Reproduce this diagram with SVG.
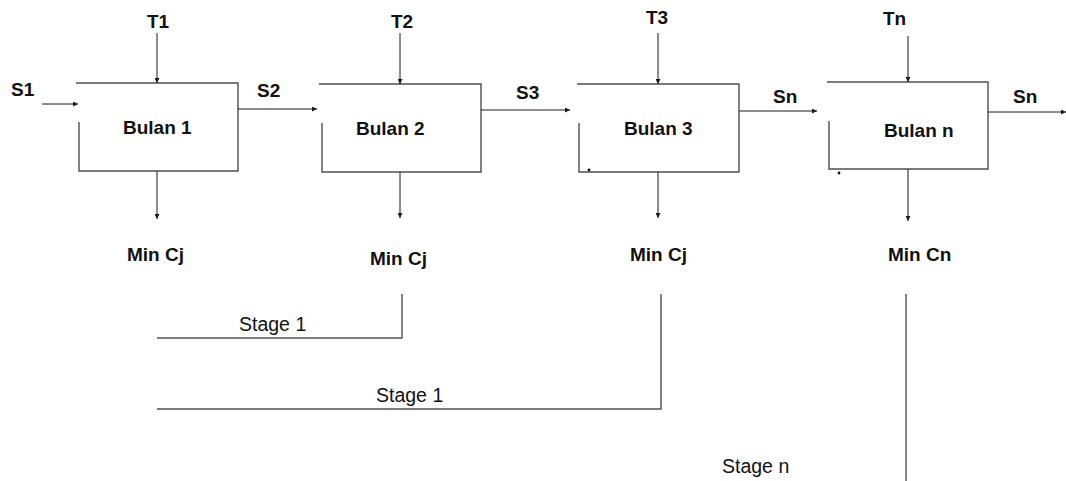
<svg xmlns="http://www.w3.org/2000/svg" width="1066" height="481" viewBox="0 0 1066 481">
  <defs>
    <style>
      .box { fill: none; stroke: #505050; stroke-width: 1.4; }
      .arrow { fill: none; stroke: #1a1a1a; stroke-width: 1; marker-end: url(#head); }
      .bracket { fill: none; stroke: #505050; stroke-width: 1.4; }
      .lbl { font-family: "Liberation Sans", Arial, sans-serif; font-weight: bold; font-size: 19px; fill: #111; }
      .stage { font-family: "Liberation Sans", Arial, sans-serif; font-size: 19.5px; fill: #111; }
      .dot { fill: #111; }
    </style>
    <marker id="head" markerUnits="userSpaceOnUse" markerWidth="5" markerHeight="5" refX="5" refY="2.5" orient="auto">
      <path d="M0,0 L5,2.5 L0,5 z" fill="#1a1a1a"/>
    </marker>
  </defs>
  <rect width="1066" height="481" fill="#ffffff"/>

  <!-- month blocks -->
  <g id="bulan1">
    <path class="box" d="M76,83 H238 V171 H79 V122"/>
    <text class="lbl" x="123" y="134">Bulan 1</text>
  </g>
  <g id="bulan2">
    <path class="box" d="M319,84 H481 V172 H322 V123"/>
    <text class="lbl" x="356" y="135">Bulan 2</text>
  </g>
  <g id="bulan3">
    <path class="box" d="M577,84 H739 V172 H579 V123"/>
    <circle class="dot" cx="589" cy="170" r="1.4"/>
    <text class="lbl" x="624" y="135">Bulan 3</text>
  </g>
  <g id="bulann">
    <path class="box" d="M827,82 H988 V169 H829 V121"/>
    <circle class="dot" cx="839" cy="173" r="1.4"/>
    <text class="lbl" x="884" y="137">Bulan n</text>
  </g>

  <!-- flows between blocks -->
  <g id="connectors">
    <line class="arrow" x1="42" y1="104" x2="78" y2="104"/>
    <line class="arrow" x1="238" y1="109" x2="317" y2="109"/>
    <line class="arrow" x1="481" y1="110" x2="570" y2="110"/>
    <line class="arrow" x1="739" y1="111" x2="817" y2="111"/>
    <line class="arrow" x1="988" y1="112" x2="1066" y2="112"/>

    <line class="arrow" x1="157" y1="33" x2="157" y2="83"/>
    <line class="arrow" x1="400" y1="33" x2="400" y2="84"/>
    <line class="arrow" x1="658" y1="33" x2="658" y2="84"/>
    <line class="arrow" x1="908" y1="36" x2="908" y2="82"/>

    <line class="arrow" x1="157" y1="171" x2="157" y2="219"/>
    <line class="arrow" x1="400" y1="172" x2="400" y2="218"/>
    <line class="arrow" x1="658" y1="172" x2="658" y2="218"/>
    <line class="arrow" x1="908" y1="169" x2="908" y2="221"/>

    <!-- stage brackets -->
    <path class="bracket" d="M157,338 H402 V294"/>
    <path class="bracket" d="M157,409 H661 V294"/>
    <path class="bracket" d="M906,294 V481"/>
  </g>

  <!-- flow labels -->
  <g id="labels">
    <text class="lbl" x="11" y="96">S1</text>
    <text class="lbl" x="147" y="28">T1</text>
    <text class="lbl" x="257" y="97">S2</text>
    <text class="lbl" x="391" y="28">T2</text>
    <text class="lbl" x="516" y="99">S3</text>
    <text class="lbl" x="646" y="24">T3</text>
    <text class="lbl" x="773" y="103">Sn</text>
    <text class="lbl" x="883" y="25">Tn</text>
    <text class="lbl" x="1013" y="103">Sn</text>

    <text class="lbl" x="127" y="261">Min Cj</text>
    <text class="lbl" x="370" y="265">Min Cj</text>
    <text class="lbl" x="630" y="261">Min Cj</text>
    <text class="lbl" x="888" y="261">Min Cn</text>

    <text class="stage" x="239" y="331">Stage 1</text>
    <text class="stage" x="376" y="402">Stage 1</text>
    <text class="stage" x="722" y="473">Stage n</text>
  </g>
</svg>
